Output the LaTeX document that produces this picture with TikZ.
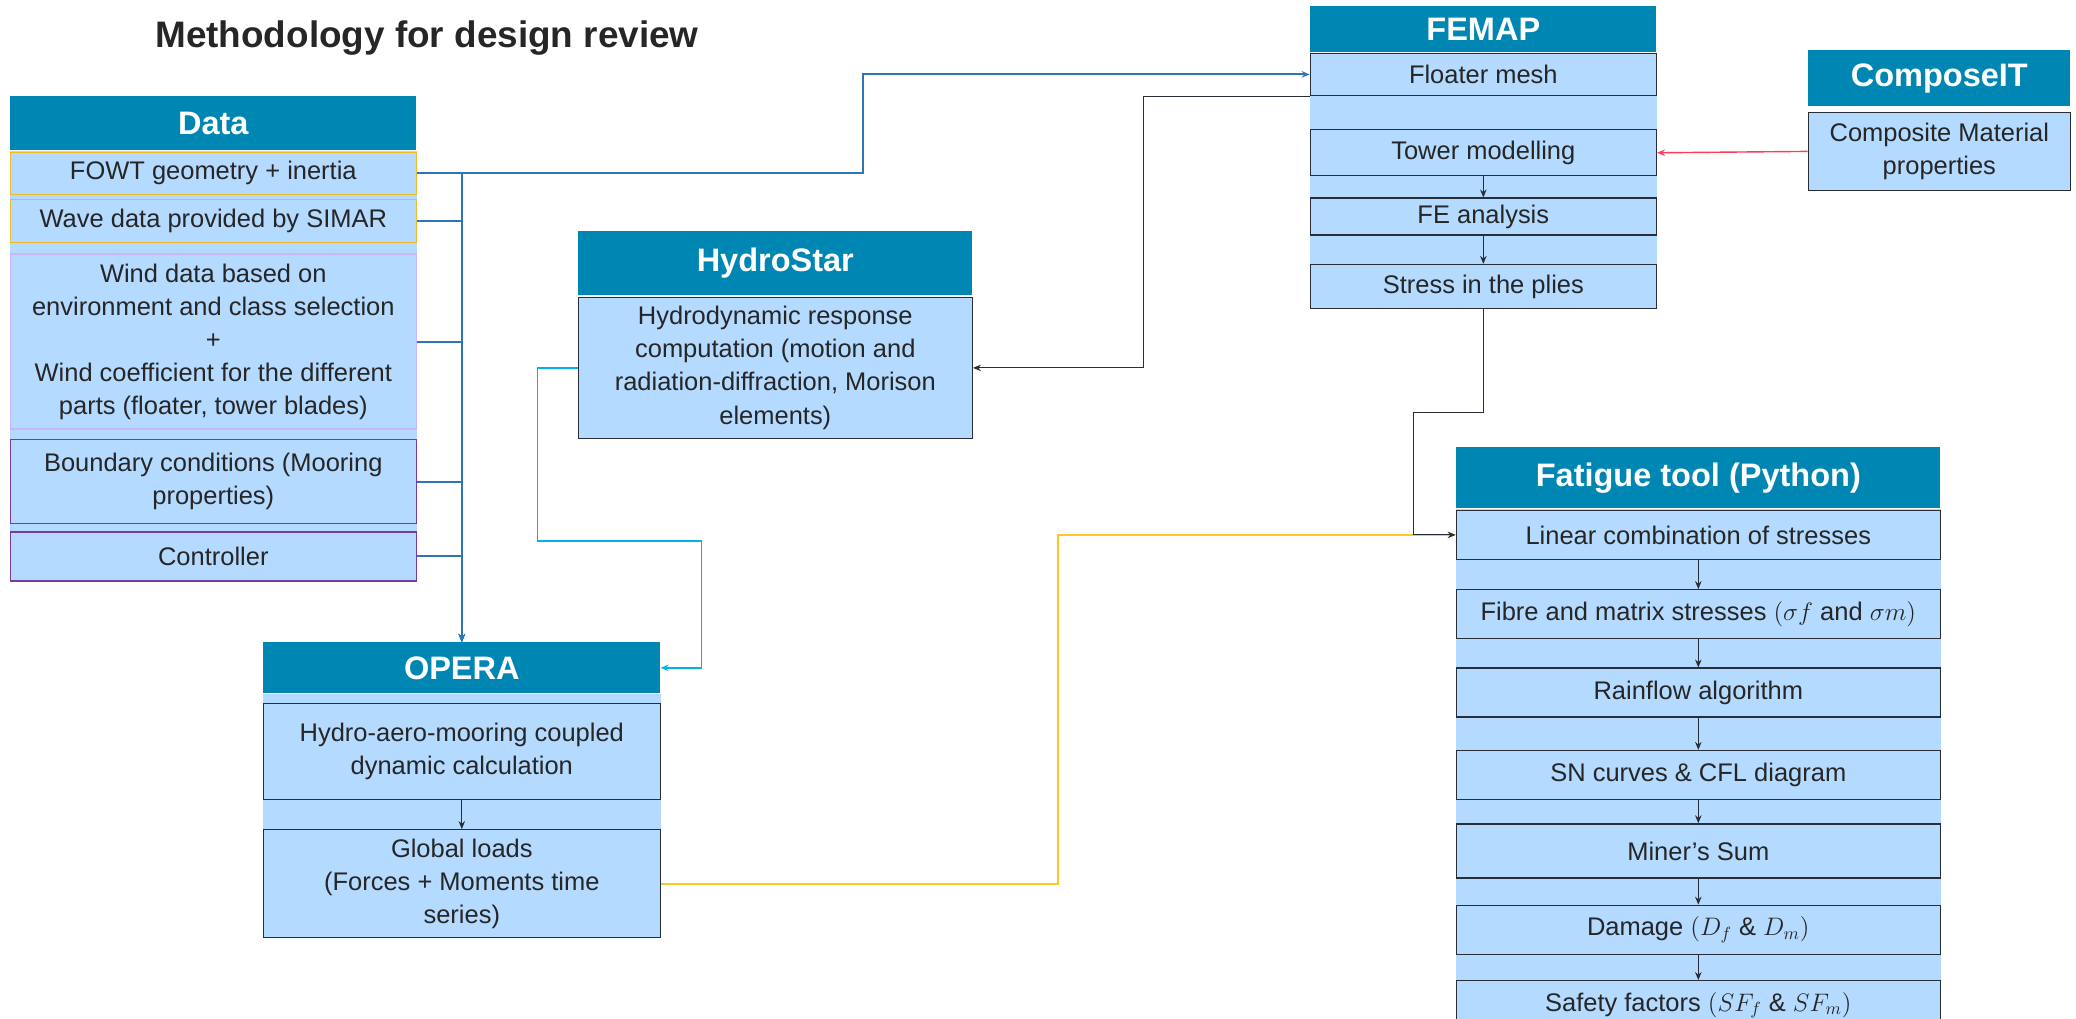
\documentclass[tikz,border=0pt]{standalone}
\usepackage{fontspec}
\setmainfont{Liberation Sans}
\usetikzlibrary{arrows.meta, positioning, backgrounds}
\definecolor{headblue}{RGB}{0,134,179}
\definecolor{paleblue}{RGB}{180,218,255}
\definecolor{textgray}{RGB}{38,38,38}
\definecolor{edgegray}{RGB}{40,46,56}
\definecolor{busblue}{RGB}{46,117,182}
\definecolor{cyanline}{RGB}{0,176,240}
\definecolor{goldline}{RGB}{255,200,40}
\definecolor{redline}{RGB}{255,60,90}
\definecolor{ambergold}{RGB}{240,185,40}
\definecolor{lilac}{RGB}{200,180,255}
\definecolor{plum}{RGB}{120,60,160}
\tikzstyle{head} = [rectangle, fill=headblue, text=white, inner sep=0pt,
  font=\fontsize{18.5}{22}\selectfont\bfseries]
\tikzstyle{row} = [rectangle, draw=edgegray, line width=0.8pt, fill=paleblue,
  text=textgray, inner sep=0pt, align=center, font=\fontsize{14.5}{18.8}\selectfont]
\tikzstyle{arrow} = [line width=0.6pt, edgegray, -{Stealth[length=1.6mm, width=1.3mm]}]
\tikzstyle{bus} = [line width=1.1pt, busblue, -{Stealth[length=1.6mm, width=1.3mm]}]

\begin{document}
\begin{tikzpicture}[x=0.02cm, y=-0.02cm]
    \useasboundingbox (0,0) rectangle (2076,1018);
    \node[anchor=base west, inner sep=0pt, text=textgray, font=\fontsize{21}{25}\selectfont\bfseries]
      (title) at (155,47) {Methodology for design review};

    % Data
    \node[head, anchor=north west, minimum width=8.12cm, minimum height=1.08cm] (data) at (10,96) {Data};
    \node[row, draw=ambergold, minimum width=8.12cm, minimum height=0.84cm, below=0.02cm of data] (fowt) {FOWT geometry + inertia};
    \node[row, draw=ambergold, minimum width=8.12cm, minimum height=0.86cm, below=0.08cm of fowt] (wave) {Wave data provided by SIMAR};
    \node[row, draw=lilac, minimum width=8.12cm, minimum height=3.5cm, below=0.2cm of wave] (wind)
      {Wind data based on\\environment and class selection\\+\\Wind coefficient for the different\\parts (floater, tower blades)};
    \node[row, draw=plum, minimum width=8.12cm, minimum height=1.68cm, below=0.18cm of wind] (bound) {Boundary conditions (Mooring\\properties)};
    \node[row, draw=plum, minimum width=8.12cm, minimum height=0.98cm, below=0.14cm of bound] (ctrl) {Controller};

    % HydroStar
    \node[head, anchor=north west, minimum width=7.88cm, minimum height=1.28cm] (hydrostar) at (578,231) {HydroStar};
    \node[row, minimum width=7.88cm, minimum height=2.82cm, below=0.02cm of hydrostar] (hydro)
      {Hydrodynamic response\\computation (motion and\\radiation-diffraction, Morison\\elements)};

    % OPERA
    \node[head, anchor=north west, minimum width=7.94cm, minimum height=1.02cm] (opera) at (263,642) {OPERA};
    \node[row, minimum width=7.94cm, minimum height=1.92cm, below=0.18cm of opera] (dyn) {Hydro-aero-mooring coupled\\dynamic calculation};
    \node[row, minimum width=7.94cm, minimum height=2.16cm, below=0.58cm of dyn] (global) {Global loads\\(Forces + Moments time\\series)};

    % FEMAP
    \node[head, anchor=north west, minimum width=6.92cm, minimum height=0.92cm] (femap) at (1310,6) {FEMAP};
    \node[row, minimum width=6.92cm, minimum height=0.84cm, below=0cm of femap] (floater) {Floater mesh};
    \node[row, minimum width=6.92cm, minimum height=0.92cm, below=0.66cm of floater] (tower) {Tower modelling};
    \node[row, minimum width=6.92cm, minimum height=0.74cm, below=0.42cm of tower] (fe) {FE analysis};
    \node[row, minimum width=6.92cm, minimum height=0.88cm, below=0.56cm of fe] (stress) {Stress in the plies};

    % ComposeIT
    \node[head, anchor=north west, minimum width=5.24cm, minimum height=1.12cm] (composeit) at (1808,50) {ComposeIT};
    \node[row, minimum width=5.24cm, minimum height=1.56cm, below=0.1cm of composeit] (composite) {Composite Material\\properties};

    % Fatigue tool
    \node[head, anchor=north west, minimum width=9.68cm, minimum height=1.22cm] (fatigue) at (1456,447) {Fatigue tool (Python)};
    \node[row, minimum width=9.68cm, minimum height=0.98cm, below=0.02cm of fatigue] (linear) {Linear combination of stresses};
    \node[row, minimum width=9.68cm, minimum height=0.98cm, below=0.58cm of linear] (fibre) {Fibre and matrix stresses $(\sigma f$ and $\sigma m)$};
    \node[row, minimum width=9.68cm, minimum height=0.98cm, below=0.56cm of fibre] (rain) {Rainflow algorithm};
    \node[row, minimum width=9.68cm, minimum height=0.98cm, below=0.64cm of rain] (sn) {SN curves \& CFL diagram};
    \node[row, minimum width=9.68cm, minimum height=1.08cm, below=0.46cm of sn] (miner) {Miner’s Sum};
    \node[row, minimum width=9.68cm, minimum height=0.98cm, below=0.52cm of miner] (damage) {Damage $(D_f\ \&\ D_m)$};
    \node[row, minimum width=9.68cm, minimum height=0.98cm, below=0.5cm of damage] (safety) {Safety factors $(SF_f$ \& $SF_m)$};

    \begin{scope}[on background layer]
      \fill[paleblue] (data.south west) rectangle (ctrl.south east);
      \fill[paleblue] (opera.south west) rectangle (global.south east);
      \fill[paleblue] (femap.south west) rectangle (stress.south east);
      \fill[paleblue] (fatigue.south west) rectangle (safety.south east);
    \end{scope}

    % connectors
    \foreach \r in {fowt, wave, wind, bound, ctrl}
      \draw[bus] (\r.east) -| (opera.north);
    \draw[bus] (fowt.east) -| ([xshift=-8.94cm]floater.west) -- (floater.west);
    \draw[arrow] (floater.south west) -- ++(-3.32cm,0) |- (hydro.east);
    \draw[arrow, cyanline, line width=0.85pt] (hydro.west) -- ++(-0.8cm,0) -- ++(0,-3.46cm) -- ++(3.28cm,0) |- (opera.east);
    \draw[arrow, goldline, line width=1.1pt] (global.east) -- ++(7.94cm,0) |- (linear.west);
    \draw[arrow] (stress.south) -- ++(0,-2.06cm) -- ++(-1.4cm,0) |- (linear.west);
    \draw[arrow, redline, line width=0.8pt] (composite.west) -- (tower.east);
    \draw[arrow] (tower) -- (fe);
    \draw[arrow] (fe) -- (stress);
    \draw[arrow] (dyn) -- (global);
    \draw[arrow] (linear) -- (fibre);
    \draw[arrow] (fibre) -- (rain);
    \draw[arrow] (rain) -- (sn);
    \draw[arrow] (sn) -- (miner);
    \draw[arrow] (miner) -- (damage);
    \draw[arrow] (damage) -- (safety);
\end{tikzpicture}
\end{document}
